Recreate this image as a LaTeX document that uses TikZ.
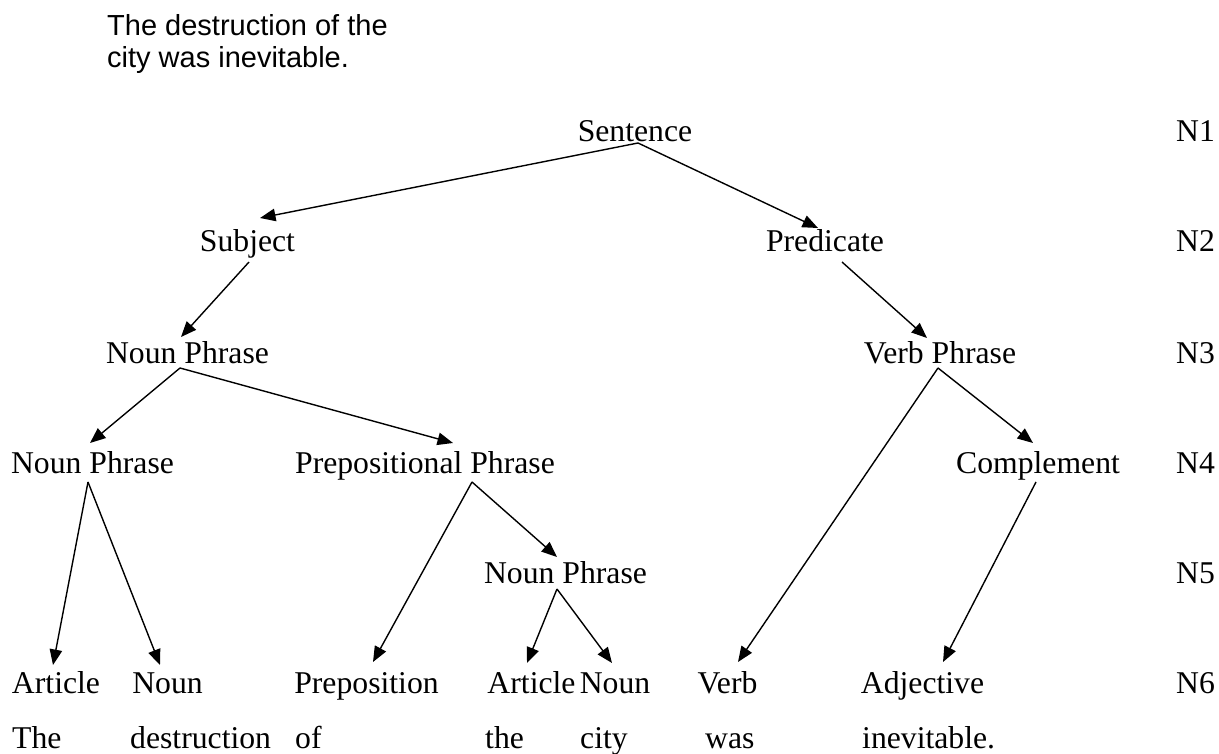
\documentclass[tikz,border=0pt]{standalone}
\usepackage{fontspec}
\setmainfont{Liberation Serif}
\newfontfamily\arialf{Liberation Sans}
\usetikzlibrary{arrows.meta,calc}
\tikzset{
  lbl/.style={anchor=base, inner sep=0pt, font=\fontsize{31.7}{38}\selectfont},
  wrd/.style={anchor=base west, inner sep=0pt, font=\fontsize{31.7}{38}\selectfont},
  arr/.style={-{Triangle[length=15.5pt,width=12.5pt]}, line width=1.4pt, black}
}
\begin{document}
\begin{tikzpicture}[x=1pt,y=-1pt]
\useasboundingbox (0,0) rectangle (1219,754);
% title
\node[anchor=base west, inner sep=0pt, font=\arialf\fontsize{29}{32}\selectfont] (title) at (107,36)
  {\begin{tabular}[t]{@{}l@{}}The destruction of the\\city was inevitable.\end{tabular}};
% tree labels
\node[lbl] (sent)  at (635,142)   {Sentence};
\node[lbl] (subj)  at (247.5,252) {Subject};
\node[lbl] (pred)  at (825,252)   {Predicate};
\node[lbl] (np3)   at (187.5,363) {Noun Phrase};
\node[lbl] (vp)    at (940,363)   {Verb Phrase};
\node[lbl] (np4)   at (92.5,473)  {Noun Phrase};
\node[lbl] (pp)    at (425,473)   {Prepositional Phrase};
\node[lbl] (comp)  at (1038,473)  {Complement};
\node[lbl] (np5)   at (565.5,583) {Noun Phrase};
\node[lbl] (art1)  at (56,693)    {Article};
\node[lbl] (noun1) at (167.5,693) {Noun};
\node[lbl] (prep)  at (366.5,693) {Preposition};
\node[lbl] (art2)  at (531.5,693) {Article};
\node[lbl] (noun2) at (615,693)   {Noun};
\node[lbl] (verb)  at (727.5,693) {Verb};
\node[lbl] (adj)   at (922.5,693) {Adjective};
% words
\node[wrd] (w1) at (12,748)  {The};
\node[wrd] (w2) at (130,748) {destruction};
\node[wrd] (w3) at (295,748) {of};
\node[wrd] (w4) at (485,748) {the};
\node[wrd] (w5) at (580,748) {city};
\node[wrd] (w6) at (705,748) {was};
\node[wrd] (w7) at (862,748) {inevitable.};
% level labels
\node[wrd] (n1) at (1176,142) {N1};
\node[wrd] (n2) at (1176,252) {N2};
\node[wrd] (n3) at (1176,363) {N3};
\node[wrd] (n4) at (1176,473) {N4};
\node[wrd] (n5) at (1176,583) {N5};
\node[wrd] (n6) at (1176,693) {N6};
% connectors
\draw[arr] ($(sent.base)+(3,1)$) -- ($(subj.base)+(12.5,-34)$);
\draw[arr] ($(sent.base)+(3,1)$) -- ($(pred.base)+(-7,-24)$);
\draw[arr] ($(subj.base)+(1.5,10)$) -- ($(np3.base)+(-6.5,-26)$);
\draw[arr] ($(pred.base)+(17,10)$) -- ($(vp.base)+(-13,-25)$);
\draw[arr] ($(np3.base)+(-7.5,5)$) -- ($(np4.base)+(-2.5,-30)$);
\draw[arr] ($(np3.base)+(-7.5,5)$) -- ($(pp.base)+(28,-30)$);
\draw[arr] ($(vp.base)+(-2,5)$) -- ($(verb.base)+(10.5,-31)$);
\draw[arr] ($(vp.base)+(-2,5)$) -- ($(comp.base)+(-5,-30)$);
\draw[arr] ($(np4.base)+(-4.5,9)$) -- ($(art1.base)+(-3,-28)$);
\draw[arr] ($(np4.base)+(-4.5,9)$) -- ($(noun1.base)+(-7.5,-28)$);
\draw[arr] ($(pp.base)+(47,9)$) -- ($(prep.base)+(6.5,-31)$);
\draw[arr] ($(pp.base)+(47,9)$) -- ($(np5.base)+(-8.5,-26)$);
\draw[arr] ($(comp.base)+(-2,9)$) -- ($(adj.base)+(20.5,-31)$);
\draw[arr] ($(np5.base)+(-8.5,6)$) -- ($(art2.base)+(-4.5,-30)$);
\draw[arr] ($(np5.base)+(-8.5,6)$) -- ($(noun2.base)+(-3,-30)$);
\end{tikzpicture}
\end{document}
